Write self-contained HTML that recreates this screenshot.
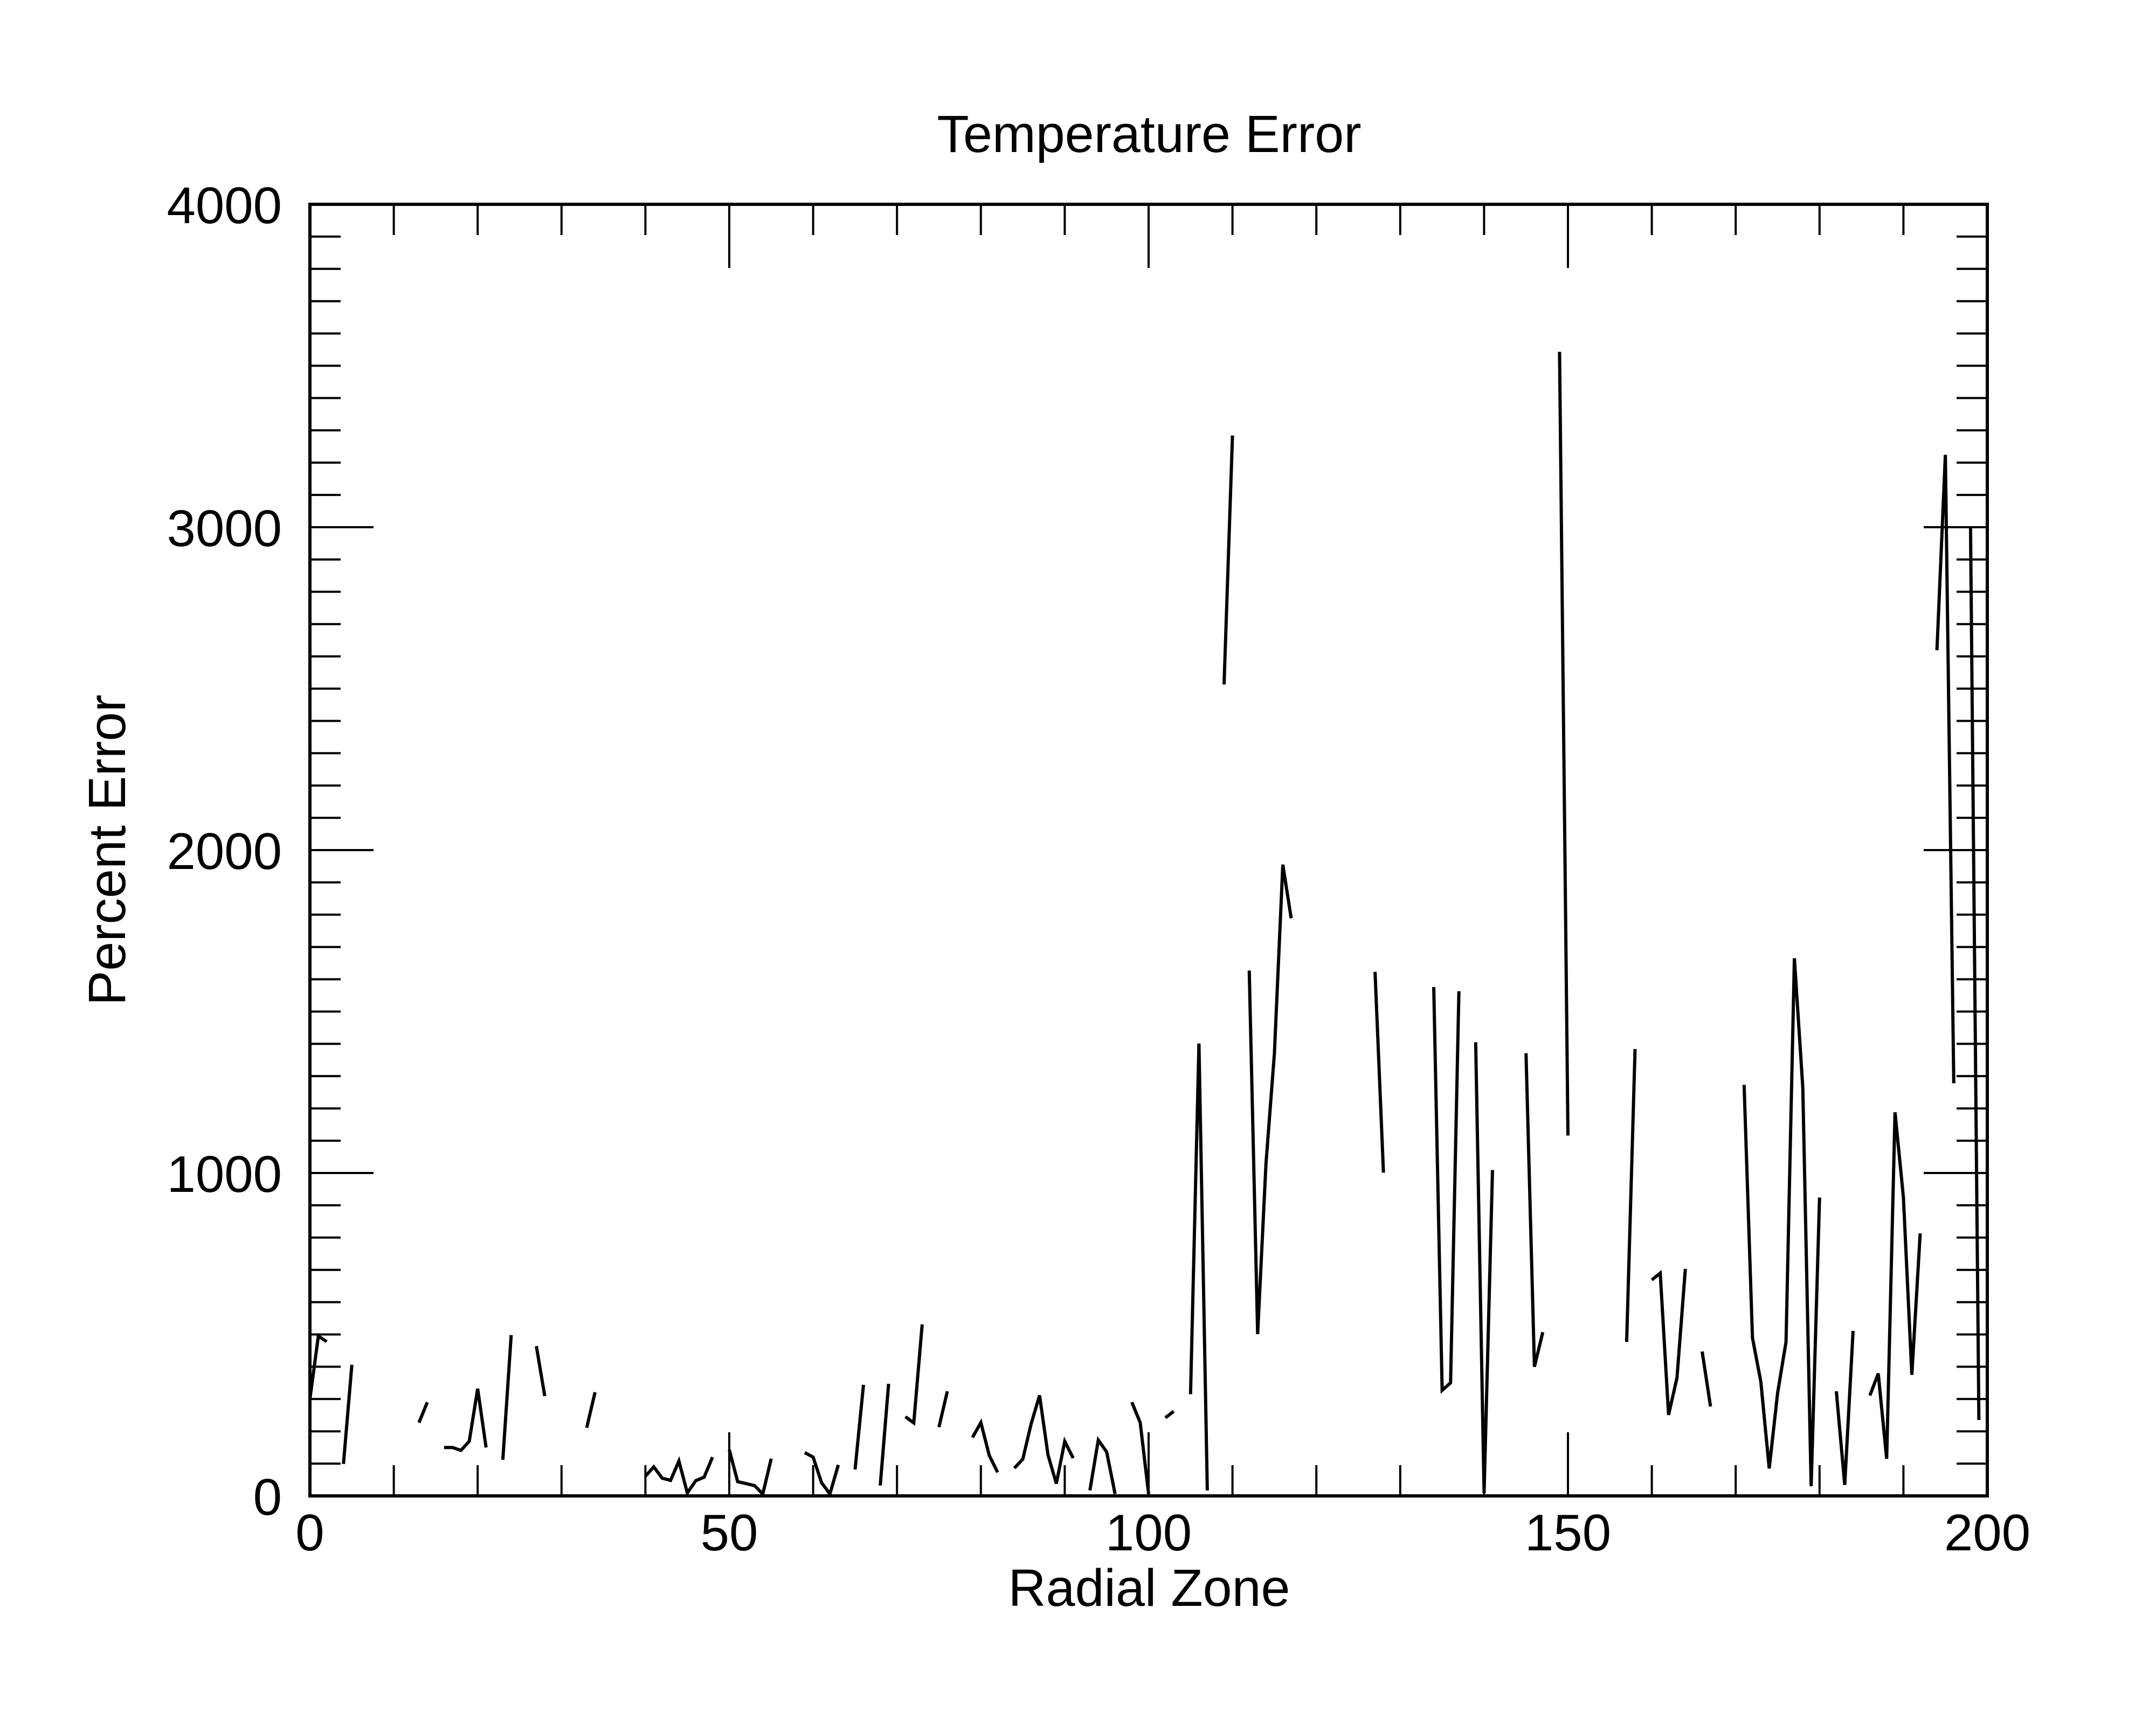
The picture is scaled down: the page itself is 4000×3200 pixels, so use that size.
<!DOCTYPE html>
<html><head><meta charset="utf-8"><style>
html,body{margin:0;padding:0;background:#fff;}
svg{display:block;font-family:"Liberation Sans",Arial,sans-serif;}
</style></head><body>
<svg id="chart" width="4000" height="3200" viewBox="0 0 4000 3200" xmlns="http://www.w3.org/2000/svg">
<rect x="0" y="0" width="4000" height="3200" fill="#fff"/>
<text x="2132" y="282" font-size="97" text-anchor="middle">Temperature Error</text>
<text x="2132" y="2979" font-size="97" text-anchor="middle">Radial Zone</text>
<text x="232" y="1577" font-size="97" text-anchor="middle" transform="rotate(-90 232 1577)">Percent Error</text>
<g id="ticks"></g>
<g id="labels"></g>
<g id="series"></g>
<rect x="575" y="379" width="3112" height="2396" fill="none" stroke="#000" stroke-width="6"/>
</svg>
<script>
const xTickLabels = ["0","50","100","150","200"];
const yTickLabels = ["0","1000","2000","3000","4000"];
const zones = [];
const errors = [
 300,495,478,null,99,406,null,null,null,null,
 null,null,null,227,290,null,150,150,141,169,
 332,150,null,112,498,null,null,464,309,null,
 null,null,null,211,321,null,null,null,null,null,
 61,90,55,48,108,9,47,58,120,null,
 143,44,38,32,6,115,null,null,null,134,
 120,41,6,96,null,82,344,null,32,347,
 null,245,226,531,null,213,324,null,null,181,
 227,125,73,null,86,114,224,311,127,38,
 169,117,null,17,173,136,6,null,290,227,
 6,null,242,262,null,315,1401,17,null,2513,
 3284,null,1627,501,1030,1371,1955,1789,null,null,
 null,null,null,null,null,null,null,1623,1001,null,
 null,null,null,null,1576,327,350,1563,null,1405,
 9,1009,null,null,null,1371,400,507,null,3543,
 1116,null,null,null,null,null,null,477,1384,null,
 669,690,251,366,703,null,447,277,null,null,
 null,1273,490,353,85,319,477,1665,1265,30,
 924,null,324,34,511,null,311,379,115,1188,
 924,375,813,null,2619,3224,1278,null,3000,235,
 null
];
for (let i = 0; i < errors.length; i++) zones.push(i);

const L=575,R=3687,T=379,B=2775;
const xScale = z => L + z/200*(R-L);
const yScale = v => B - v/4000*(B-T);
const NS="http://www.w3.org/2000/svg";
const tg=document.getElementById('ticks'), lg=document.getElementById('labels'), sg=document.getElementById('series');
function line(g,x1,y1,x2,y2,w,name){
  const l=document.createElementNS(NS,'line');
  l.setAttribute('x1',x1);l.setAttribute('y1',y1);l.setAttribute('x2',x2);l.setAttribute('y2',y2);
  l.setAttribute('stroke','#000');l.setAttribute('stroke-width',w);
  
  
  g.appendChild(l);
}
// x ticks every 10, major every 50
for(let z=0;z<=200;z+=10){
  const x=xScale(z), len=(z%50===0)?118:57;
  line(tg,x,B,x,B-len,4,'x-tick');
  line(tg,x,T,x,T+len,4,'x-tick-top');
}
// y ticks every 100, major every 1000
for(let v=0;v<=4000;v+=100){
  const y=yScale(v), len=(v%1000===0)?118:57;
  line(tg,L,y,L+len,y,4,'y-tick');
  line(tg,R,y,R-len,y,4,'y-tick-right');
}
xTickLabels.forEach((s,i)=>{
  const t=document.createElementNS(NS,'text');
  t.setAttribute('x',xScale(+s));t.setAttribute('y',2876);
  t.setAttribute('font-size','96');t.setAttribute('text-anchor','middle');
  t.textContent=s;
  
  
  lg.appendChild(t);
});
yTickLabels.forEach((s,i)=>{
  const t=document.createElementNS(NS,'text');
  t.setAttribute('x',523);t.setAttribute('y',yScale(+s)+35);
  t.setAttribute('font-size','96');t.setAttribute('text-anchor','end');
  t.textContent=s;
  
  
  lg.appendChild(t);
});
// series with gaps
let d='';let pen=false;
for(let i=0;i<errors.length;i++){
  const v=errors[i];
  if(v===null||v===undefined){pen=false;continue;}
  const next=errors[i+1];
  if(!pen && (next===null||next===undefined)){continue;}
  d+=(pen?'L':'M')+xScale(zones[i]).toFixed(1)+' '+yScale(v).toFixed(1)+' ';
  pen=true;
}
const p=document.createElementNS(NS,'path');
p.setAttribute('d',d);p.setAttribute('fill','none');p.setAttribute('stroke','#000');
p.setAttribute('stroke-width','6');p.setAttribute('stroke-linejoin','miter');


sg.appendChild(p);
</script>
</body></html>
